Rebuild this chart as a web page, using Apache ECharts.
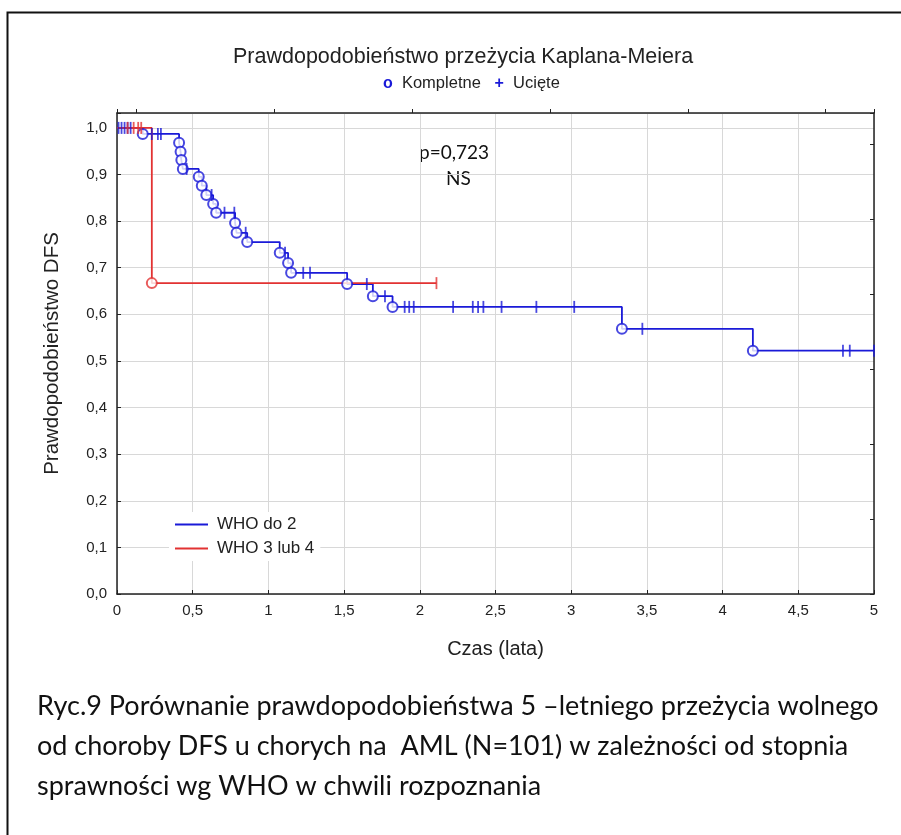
<!DOCTYPE html>
<html>
<head>
<meta charset="utf-8">
<script src="https://cdn.jsdelivr.net/npm/echarts@6/dist/echarts.min.js"></script>
<style>
  html, body { margin: 0; padding: 0; background: #fff; }
  #chart { width: 901px; height: 835px; }
</style>
</head>
<body>
<div id="chart"></div>
<script>
// WHO do 2: KM step points (years, survival) - first is start, last is end of follow-up
const blueStepT = [0, 0.17, 0.41, 0.42, 0.425, 0.435, 0.54, 0.56, 0.59, 0.635, 0.655, 0.78, 0.79, 0.86, 1.075, 1.13, 1.15, 1.52, 1.69, 1.82, 3.335, 4.2, 5.0];
const blueStepS = [1.0, 0.987, 0.968, 0.949, 0.931, 0.912, 0.895, 0.876, 0.856, 0.837, 0.818, 0.796, 0.775, 0.755, 0.732, 0.71, 0.689, 0.665, 0.639, 0.616, 0.569, 0.522, 0.522];
// WHO do 2: censored cases
const blueCensT = [0.01, 0.03, 0.05, 0.07, 0.09, 0.23, 0.27, 0.29, 0.46, 0.625, 0.71, 0.775, 0.85, 1.11, 1.23, 1.275, 1.65, 1.77, 1.9, 1.93, 1.96, 2.22, 2.35, 2.385, 2.42, 2.54, 2.77, 3.02, 3.47, 4.795, 4.84, 5.0];
const blueCensS = [1.0, 1.0, 1.0, 1.0, 1.0, 0.987, 0.987, 0.987, 0.912, 0.856, 0.818, 0.818, 0.775, 0.732, 0.689, 0.689, 0.665, 0.639, 0.616, 0.616, 0.616, 0.616, 0.616, 0.616, 0.616, 0.616, 0.616, 0.616, 0.569, 0.522, 0.522, 0.522];

// WHO 3 lub 4
const redStepT = [0, 0.23, 2.11];
const redStepS = [1.0, 0.667, 0.667];
const redCensT = [0.07, 0.11, 0.14, 0.16, 2.11];
const redCensS = [1.0, 1.0, 1.0, 1.0, 0.667];

const xTicks = [0, 0.5, 1, 1.5, 2, 2.5, 3, 3.5, 4, 4.5, 5];

const BLUE = '#1a1ad8';
const RED = '#e23232';
const FONT = '"Liberation Sans", Arial, sans-serif';
const CAP_FONT = 'Lato, "Open Sans", sans-serif';

const zip = (a, b) => a.map((v, i) => [v, b[i]]);
// events = step points without the start and the end-of-follow-up point
const events = (t, s) => zip(t, s).slice(1, -1);

const chart = echarts.init(document.getElementById('chart'));

const commaNum = v => String(v).replace('.', ',');

chart.setOption({
  animation: false,
  backgroundColor: '#fff',
  grid: { left: 117, right: 27, top: 113, bottom: 241 },
  legend: {
    data: ['WHO do 2', 'WHO 3 lub 4'],
    orient: 'vertical',
    left: 169,
    top: 512,
    icon: 'rect',
    itemWidth: 33,
    itemHeight: 2,
    itemGap: 7,
    padding: [4, 6],
    backgroundColor: '#fff',
    textStyle: { fontFamily: FONT, fontSize: 17, color: '#222', padding: [0, 0, 0, 4] }
  },
  xAxis: [
    {
      type: 'value', min: 0, max: 5, interval: 0.5,
      axisLine: { show: true, onZero: false, lineStyle: { color: '#222', width: 1.5 } },
      axisTick: { show: true, inside: true, length: 4, lineStyle: { color: '#222' } },
      axisLabel: {
        margin: 9, fontSize: 15, fontFamily: FONT, color: '#222',
        formatter: v => (xTicks.indexOf(v) >= 0 ? commaNum(v) : '')
      },
      splitLine: { show: true, lineStyle: { color: '#d8d8d8', width: 1 } },
      name: 'Czas (lata)', nameLocation: 'middle', nameGap: 45,
      nameTextStyle: { fontFamily: FONT, fontSize: 20, color: '#222' }
    },
    {
      // top frame with its own tick spacing
      type: 'value', position: 'top', min: -0.275, max: 10.7,
      axisLine: { show: true, onZero: false, lineStyle: { color: '#222', width: 1.5 } },
      axisTick: { show: true, length: 4, lineStyle: { color: '#222' } },
      axisLabel: { show: false },
      splitLine: { show: false }
    }
  ],
  yAxis: [
    {
      type: 'value', min: 0, max: 1.032, interval: 0.1,
      axisLine: { show: true, onZero: false, lineStyle: { color: '#222', width: 1.5 } },
      axisTick: { show: true, inside: true, length: 4, lineStyle: { color: '#222' } },
      axisLabel: {
        margin: 10, fontSize: 15, fontFamily: FONT, color: '#222',
        formatter: v => (v <= 1.0001 && Math.abs(v * 10 - Math.round(v * 10)) < 1e-6 ? v.toFixed(1).replace('.', ',') : '')
      },
      splitLine: { show: true, lineStyle: { color: '#d8d8d8', width: 1 } },
      name: 'Prawdopodobieństwo DFS', nameLocation: 'middle', nameGap: 54,
      nameTextStyle: { fontFamily: FONT, fontSize: 20.5, color: '#222' }
    },
    {
      // right frame
      type: 'value', position: 'right', min: 0, max: 6.41, interval: 1,
      axisLine: { show: true, onZero: false, lineStyle: { color: '#222', width: 1.5 } },
      axisTick: { show: true, inside: true, length: 4, lineStyle: { color: '#222' } },
      axisLabel: { show: false },
      splitLine: { show: false }
    }
  ],
  graphic: [
    {
      type: 'rect', left: 5, top: 10, silent: true,
      shape: { width: 1000, height: 1000 },
      style: { fill: 'none', stroke: '#111', lineWidth: 2 }
    },
    {
      type: 'text', left: 233, top: 46,
      style: { text: 'Prawdopodobieństwo przeżycia Kaplana-Meiera', font: '21.5px ' + FONT, fill: '#222' }
    },
    {
      type: 'text', left: 383, top: 75,
      style: {
        text: '{s|o}  Kompletne   {s|+}  Ucięte',
        font: '16.5px ' + FONT, fill: '#222',
        rich: { s: { fill: BLUE, font: 'bold 16px ' + FONT } }
      }
    },
    {
      type: 'text', left: 419, top: 143,
      style: { text: 'p=0,723', font: '19px ' + CAP_FONT, fill: '#111' }
    },
    {
      type: 'text', left: 446, top: 169,
      style: { text: 'NS', font: '19px ' + CAP_FONT, fill: '#111' }
    },
    {
      type: 'text', left: 37, top: 686,
      style: {
        text: 'Ryc.9 Porównanie prawdopodobieństwa 5 –letniego przeżycia wolnego\nod choroby DFS u chorych na  AML (N=101) w zależności od stopnia\nsprawności wg WHO w chwili rozpoznania',
        font: '27px ' + CAP_FONT, fill: '#111', lineHeight: 40
      }
    }
  ],
  series: [
    {
      name: 'WHO do 2', type: 'line', step: 'end', showSymbol: false,
      data: zip(blueStepT, blueStepS),
      lineStyle: { color: BLUE, width: 1.8 }, itemStyle: { color: BLUE }, z: 3
    },
    {
      name: 'WHO 3 lub 4', type: 'line', step: 'end', showSymbol: false,
      data: zip(redStepT, redStepS),
      lineStyle: { color: RED, width: 1.8 }, itemStyle: { color: RED }, z: 4
    },
    {
      name: 'blue-complete', type: 'scatter', data: events(blueStepT, blueStepS),
      symbol: 'emptyCircle', symbolSize: 10,
      itemStyle: { color: BLUE, borderColor: BLUE, borderWidth: 1.8 }, z: 5
    },
    {
      name: 'blue-censored', type: 'scatter', data: zip(blueCensT, blueCensS),
      symbol: 'rect', symbolSize: [1.8, 12],
      itemStyle: { color: BLUE }, z: 5
    },
    {
      name: 'red-complete', type: 'scatter', data: events(redStepT, redStepS),
      symbol: 'emptyCircle', symbolSize: 10,
      itemStyle: { color: RED, borderColor: RED, borderWidth: 1.8 }, z: 6
    },
    {
      name: 'red-censored', type: 'scatter', data: zip(redCensT, redCensS),
      symbol: 'rect', symbolSize: [1.8, 12],
      itemStyle: { color: RED }, z: 6
    }
  ]
});
</script>
</body>
</html>
